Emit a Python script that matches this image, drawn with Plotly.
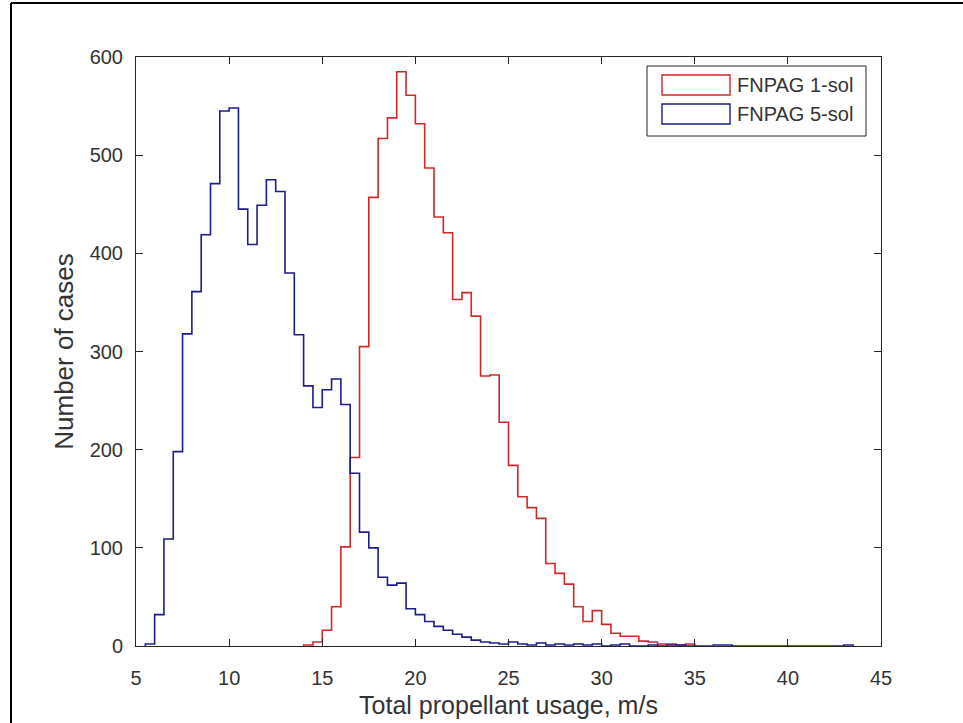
import numpy as np
import plotly.graph_objects as go

# Histogram bins: lower edge of first bin and bin width (m/s)
bin_start = 5.0
bin_width = 0.5

# Counts per bin, first bin = [5.0, 5.5)
fnpag1_counts = [
    0, 0, 0, 0, 0, 0, 0, 0, 0, 0,          # 5.0 - 9.5
    0, 0, 0, 0, 0, 0, 0, 0,                # 10.0 - 13.5
    1, 4, 16, 40, 101, 192, 305, 457,      # 14.0 - 17.5
    517, 538, 585, 561, 532, 487, 437, 421,  # 18.0 - 21.5
    353, 360, 336, 275, 276, 228, 184, 152,  # 22.0 - 25.5
    141, 130, 84, 74, 63, 40, 25, 36,        # 26.0 - 29.5
    22, 13, 10, 10, 5, 4, 2, 2, 1, 2,        # 30.0 - 34.5
]
fnpag5_counts = [
    0, 2, 32, 109, 198, 318, 361, 419, 471, 545,  # 5.0 - 9.5
    548, 445, 409, 449, 475, 463, 380, 317,       # 10.0 - 13.5
    265, 243, 261, 272, 246, 176, 116, 100,       # 14.0 - 17.5
    70, 62, 64, 38, 32, 25, 20, 16,               # 18.0 - 21.5
    12, 9, 6, 4, 3, 2, 4, 2,                      # 22.0 - 25.5
    1, 3, 1, 2, 1, 2, 1, 2,                       # 26.0 - 29.5
    0, 1, 2, 0, 0, 1, 0, 1, 1, 0,                 # 30.0 - 34.5
    0, 0, 1, 1, 0, 0, 0, 0, 0, 0,                 # 35.0 - 39.5
    0, 0, 0, 0, 0, 0, 1,                          # 40.0 - 43.0
]

series_names = ["FNPAG 1-sol", "FNPAG 5-sol"]
series_colors = ["#d02828", "#1c1c8c"]

x_ticks = [5, 10, 15, 20, 25, 30, 35, 40, 45]
y_ticks = [0, 100, 200, 300, 400, 500, 600]
x_title = "Total propellant usage, m/s"
y_title = "Number of cases"


def stairs(counts):
    counts = np.asarray(counts, dtype=float)
    nz = np.nonzero(counts)[0]
    i0, i1 = nz[0], nz[-1] + 1
    edges = bin_start + bin_width * np.arange(len(counts) + 1)
    xs = np.concatenate([[edges[i0]], edges[i0:i1], [edges[i1]]])
    ys = np.concatenate([[0.0], counts[i0:i1], [0.0]])
    return xs, ys


fig = go.Figure()
for counts, name, color in zip([fnpag1_counts, fnpag5_counts], series_names, series_colors):
    xs, ys = stairs(counts)
    fig.add_trace(go.Scatter(
        x=xs, y=ys, mode="lines", name=name,
        line=dict(color=color, width=1.6, shape="hv"),
        showlegend=False,
    ))

axis_color = "#262626"
text_color = "#333333"
font_family = "Liberation Sans, Arial, sans-serif"

# Plot area in pixels (for converting legend geometry to paper coords)
L, R, T, B = 136, 881, 57, 646
W, H = R - L, B - T


def px(x):
    return (x - L) / W


def py(y):
    return (B - y) / H


shapes = []
# outer image frame (left and top edges visible)
shapes.append(dict(type="line", xref="paper", yref="paper",
                   x0=px(11), x1=px(11), y0=py(3), y1=py(760),
                   line=dict(color="black", width=2)))
shapes.append(dict(type="line", xref="paper", yref="paper",
                   x0=px(11), x1=px(1000), y0=py(3), y1=py(3),
                   line=dict(color="black", width=2)))
# legend box
shapes.append(dict(type="rect", xref="paper", yref="paper",
                   x0=px(647), x1=px(866), y0=py(136), y1=py(66),
                   line=dict(color=axis_color, width=1), fillcolor="white"))
annotations = []
for (top, bot, mid), name, color in zip([(75, 95, 85), (104, 124, 114.5)], series_names, series_colors):
    shapes.append(dict(type="rect", xref="paper", yref="paper",
                       x0=px(662), x1=px(730), y0=py(bot), y1=py(top),
                       line=dict(color=color, width=1.4), fillcolor="white"))
    annotations.append(dict(xref="paper", yref="paper", x=px(735), y=py(mid),
                            xanchor="left", yanchor="middle", showarrow=False,
                            text=name, font=dict(family=font_family, size=20, color=text_color)))

fig.update_layout(
    width=963, height=723,
    margin=dict(l=L, r=963 - R, t=T, b=723 - B, autoexpand=False),
    paper_bgcolor="white", plot_bgcolor="white",
    font=dict(family=font_family, color=text_color),
    shapes=shapes, annotations=annotations,
    showlegend=False,
)
fig.update_xaxes(
    range=[5, 45], tickvals=x_ticks, ticktext=[str(v) for v in x_ticks],
    ticks="inside", ticklen=7, tickcolor=axis_color, tickwidth=1,
    showline=True, linecolor=axis_color, linewidth=1, mirror="ticks",
    showgrid=False, zeroline=False, automargin=False,
    tickfont=dict(size=20, color=text_color), ticklabelstandoff=14,
    title=dict(text=x_title, font=dict(size=25, color=text_color), standoff=8),
)
fig.update_yaxes(
    range=[0, 600], tickvals=y_ticks, ticktext=[str(v) for v in y_ticks],
    ticks="inside", ticklen=7, tickcolor=axis_color, tickwidth=1,
    showline=True, linecolor=axis_color, linewidth=1, mirror="ticks",
    showgrid=False, zeroline=False, automargin=False,
    tickfont=dict(size=20, color=text_color), ticklabelstandoff=8,
    title=dict(text=y_title, font=dict(size=26, color=text_color), standoff=8),
)

fig.write_html("out.html")
